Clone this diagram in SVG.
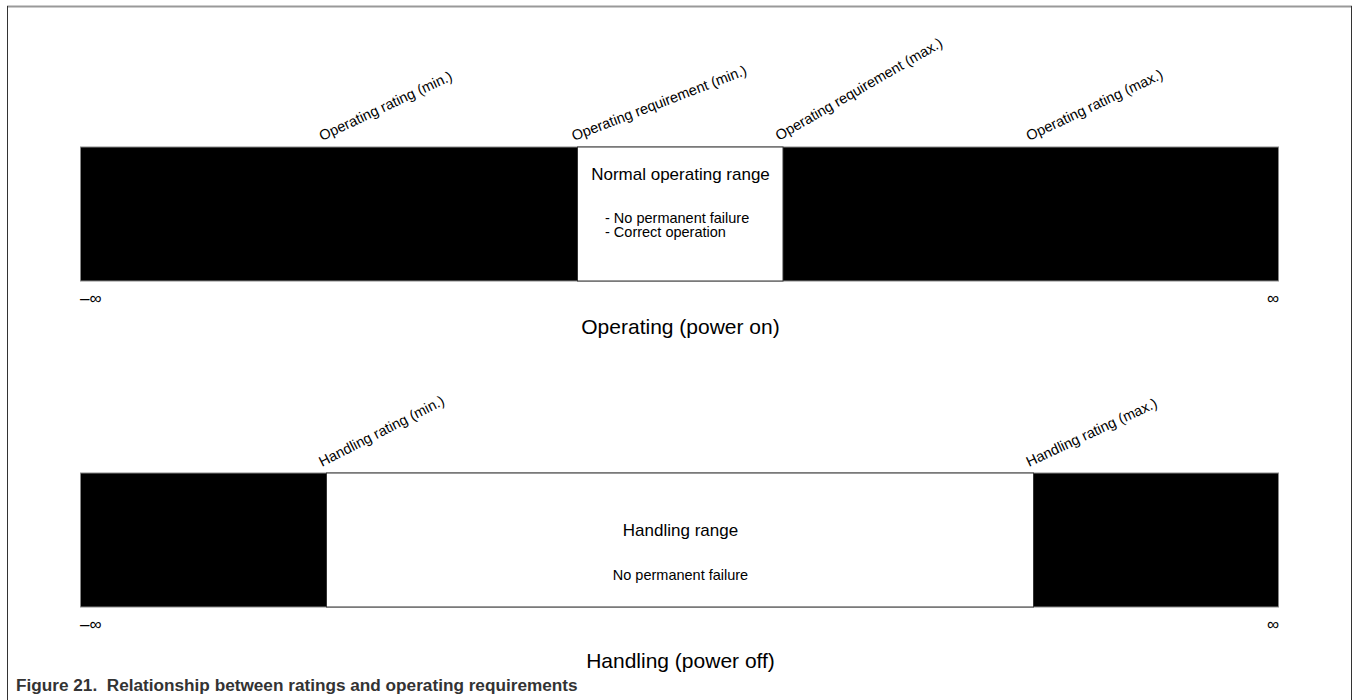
<svg xmlns="http://www.w3.org/2000/svg" width="1353" height="700" viewBox="0 0 1353 700">
<style>
text{font-family:"Liberation Sans",Arial,sans-serif;fill:#000}
.lbl{font-size:14.5px}
.hd{font-size:17px;text-anchor:middle}
.sm{font-size:14.5px}
.ttl{font-size:21px;text-anchor:middle}
.inf{font-size:17px}
.blk{fill:#000;stroke:#888;stroke-width:1}
.wht{fill:#fff;stroke:#333;stroke-width:1}
.cap{font-size:17.2px;font-weight:bold;fill:#333}
</style>
<rect x="0" y="0" width="1353" height="700" fill="#fff"/>
<g id="frame">
<line x1="7" y1="6.5" x2="1352" y2="6.5" stroke="#999" stroke-width="2"/>
<line x1="7.5" y1="6" x2="7.5" y2="700" stroke="#333" stroke-width="1"/>
<line x1="1351.5" y1="6" x2="1351.5" y2="700" stroke="#333" stroke-width="1"/>
</g>
<g id="operating-bar">
<rect class="blk" x="80.5" y="147" width="1198" height="134"/>
<rect class="wht" x="577.5" y="147" width="205.5" height="134"/>
<text class="hd" x="680.5" y="180">Normal operating range</text>
<text class="sm" x="605" y="223">- No permanent failure</text>
<text class="sm" x="605" y="237">- Correct operation</text>
</g>
<g id="operating-labels">
<text class="lbl" transform="translate(322,141) rotate(-25)">Operating rating (min.)</text>
<text class="lbl" transform="translate(574,141) rotate(-21)">Operating requirement (min.)</text>
<text class="lbl" transform="translate(779,141) rotate(-30)">Operating requirement (max.)</text>
<text class="lbl" transform="translate(1029,141) rotate(-25)">Operating rating (max.)</text>
</g>
<g id="operating-axis">
<text class="inf" x="80" y="304">–∞</text>
<text class="inf" x="1279" y="304" text-anchor="end">∞</text>
<text class="ttl" x="680.5" y="334">Operating (power on)</text>
</g>
<g id="handling-bar">
<rect class="blk" x="80.5" y="473" width="1198" height="134"/>
<rect class="wht" x="326.5" y="473" width="707" height="134"/>
<text class="hd" x="680.5" y="536">Handling range</text>
<text class="sm" x="680.5" y="580" text-anchor="middle">No permanent failure</text>
</g>
<g id="handling-labels">
<text class="lbl" transform="translate(322,467) rotate(-27)">Handling rating (min.)</text>
<text class="lbl" transform="translate(1029,467) rotate(-25)">Handling rating (max.)</text>
</g>
<g id="handling-axis">
<text class="inf" x="80" y="630">–∞</text>
<text class="inf" x="1279" y="630" text-anchor="end">∞</text>
<text class="ttl" x="680.5" y="668">Handling (power off)</text>
</g>
<g id="caption">
<text class="cap" x="16" y="691" xml:space="preserve">Figure 21.  Relationship between ratings and operating requirements</text>
</g>
<g id="connectors"></g>
</svg>
